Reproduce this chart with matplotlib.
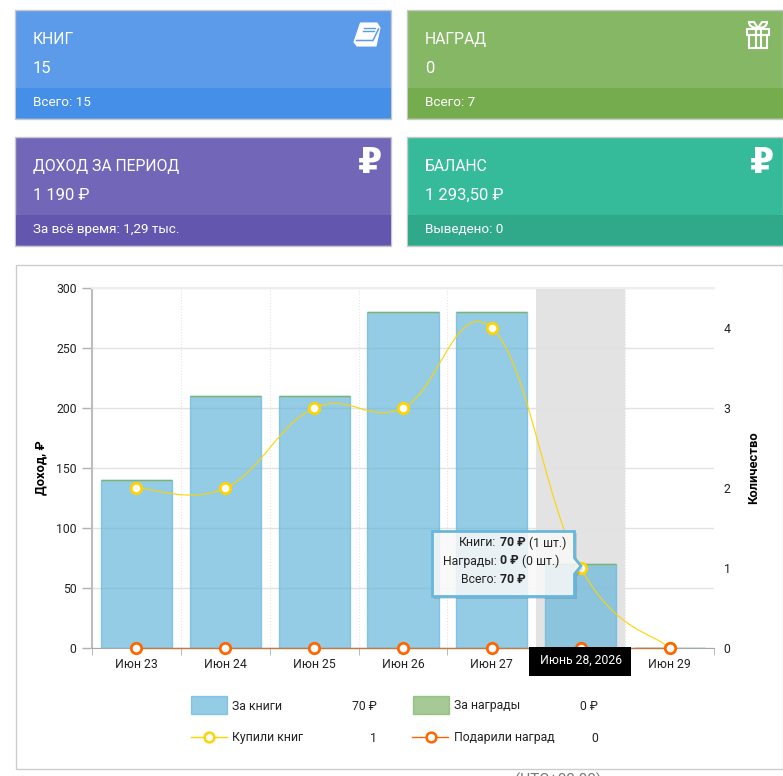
import numpy as np
import matplotlib
matplotlib.use('Agg')
import matplotlib.pyplot as plt
from matplotlib.patches import Rectangle, Polygon, PathPatch
from matplotlib.path import Path

plt.rcParams['font.family'] = ['Roboto', 'DejaVu Sans']

# Jun 28 is covered by the black date label in the picture
days = ['Июн 23', 'Июн 24', 'Июн 25', 'Июн 26', 'Июн 27', '', 'Июн 29']
books_income = [140, 210, 210, 280, 280, 70, 0]
awards_income = [0, 0, 0, 0, 0, 0, 0]
books_count = [2, 2, 3, 3, 4, 1, 0]
awards_count = [0, 0, 0, 0, 0, 0, 0]

# title, value, footer, card colour, footer colour, x, y
cards = [
    ('КНИГ', '15', 'Всего: 15', '#5b9bea', '#468fe8', 15, 9.5),
    ('НАГРАД', '0', 'Всего: 7', '#85b765', '#75ad4e', 407, 9.5),
    ('ДОХОД ЗА ПЕРИОД', '1 190 ₽', 'За всё время: 1,29 тыс.', '#7266b9', '#6356af', 15, 136.5),
    ('БАЛАНС', '1 293,50 ₽', 'Выведено: 0', '#35bb99', '#30a88a', 407, 136.5),
]

W, H = 783, 776
fig = plt.figure(figsize=(W / 100, H / 100), dpi=100)


def px_axes(z):
    a = fig.add_axes([0, 0, 1, 1], zorder=z)
    a.set_xlim(0, W)
    a.set_ylim(H, 0)
    a.axis('off')
    return a


bg = px_axes(0)
top = px_axes(5)

# cards
for title, value, foot, col, col2, x, y in cards:
    bg.add_patch(Rectangle((x, y), 376, 109, fc=col, ec='#c8c8c8', lw=1))
    bg.add_patch(Rectangle((x + 0.5, y + 78), 375, 30.5, fc=col2, ec='none'))
    bg.text(x + 18, y + 30, title, color='white', fontsize=11.3, va='center')
    bg.text(x + 18, y + 59, value, color='white', fontsize=12, va='center')
    bg.text(x + 18, y + 93, foot, color='white', fontsize=9.7, va='center')

# ruble icons
for xr, yr in [(370, 163), (762, 163)]:
    bg.text(xr, yr, '₽', color='white', fontsize=25, fontweight='bold', ha='center', va='center',
            family='DejaVu Sans')

# book icon
bg.add_patch(Polygon([[360.5, 23], [377, 23], [380, 28], [376, 46], [357, 46], [354, 42]], closed=True,
                     fc='white', ec='white', lw=0.8))
bg.plot([356.5, 373, 378.5], [40.5, 40.5, 29], color='#5b9bea', lw=1.1)
bg.plot([364, 374.5], [27.5, 27.5], color='#5b9bea', lw=1)
bg.plot([363, 373.5], [31, 31], color='#5b9bea', lw=1)

# gift icon
bg.add_patch(Rectangle((747, 28.5), 22, 6.5, fc='none', ec='white', lw=1.5))
bg.add_patch(Rectangle((749, 35), 18, 13, fc='none', ec='white', lw=1.5))
bg.plot([755.5, 755.5], [28.5, 48], color='white', lw=1.5)
bg.plot([760.5, 760.5], [28.5, 48], color='white', lw=1.5)
bg.add_patch(PathPatch(Path([(758, 28), (749, 28), (749, 22), (754, 22), (758, 28)],
                            [Path.MOVETO, Path.CURVE3, Path.CURVE3, Path.LINETO, Path.LINETO]),
                       fc='none', ec='white', lw=1.5))
bg.add_patch(PathPatch(Path([(758, 28), (767, 28), (767, 22), (762, 22), (758, 28)],
                            [Path.MOVETO, Path.CURVE3, Path.CURVE3, Path.LINETO, Path.LINETO]),
                       fc='none', ec='white', lw=1.5))

# chart panel
bg.add_patch(Rectangle((15.5, 264.5), 767, 504.5, fc='white', ec='#cccccc', lw=1))
# only this bit of the line below the panel can be read, the rest is cut by the edge
bg.text(515, 780, '(UTC+03:00)', color='#777777', fontsize=11, va='center', clip_on=True)

# main plot
ax = fig.add_axes([92 / W, 1 - 648 / H, 622 / W, 360 / H], zorder=1)
ax.patch.set_alpha(0)
x = np.arange(len(days))
ax.axvspan(4.5, 5.5, color='#e3e3e3', lw=0, zorder=0)
ax.bar(x, books_income, width=0.8, color='#67b7dc', alpha=0.7, edgecolor='#67b7dc', lw=1, zorder=2)
ax.bar(x, awards_income, bottom=books_income, width=0.8, color='#7fb46a', edgecolor='#7fb46a', lw=1, zorder=2)
ax.set_xlim(-0.5, 6.5)
ax.set_ylim(0, 300)
ax.set_yticks([0, 50, 100, 150, 200, 250, 300])
ax.set_xticks(x)
ax.set_xticklabels(days)
ax.set_xticks(np.arange(-0.5, 7, 1), minor=True)
ax.grid(axis='y', color='#e2e2e2', lw=1, zorder=1)
ax.grid(axis='x', which='minor', color='#e4e4e4', lw=0.8, ls=':', zorder=1)
ax.grid(axis='x', which='major', visible=False)
ax.tick_params(axis='x', which='major', length=0, labelsize=8.8, colors='#222222', pad=7)
ax.tick_params(axis='x', which='minor', length=5, color='#b0b0b0')
ax.tick_params(axis='y', length=7, color='#b0b0b0', labelsize=8.8, labelcolor='#222222', pad=4, width=1)
ax.spines['top'].set_color('#eeeeee')
ax.spines['top'].set_linewidth(1.5)
ax.spines['right'].set_visible(False)
ax.spines['left'].set_color('#bdbdbd')
ax.spines['left'].set_linewidth(1.5)
ax.spines['bottom'].set_color('#a8a8a8')
ax.set_ylabel('Доход, ₽', fontsize=9.4, fontweight='bold', labelpad=0)
ax.yaxis.set_label_coords((47 - 92) / 622, 0.5)

ax2 = ax.twinx()
ax2.set_ylim(0, 4.5)
ax2.set_yticks([0, 1, 2, 3, 4])
ax2.tick_params(axis='y', length=0, labelsize=8.8, labelcolor='#222222', pad=7)
for s in ax2.spines.values():
    s.set_visible(False)
ax2.set_ylabel('Количество', fontsize=9.4, fontweight='bold', labelpad=0)
ax2.yaxis.set_label_coords((747 - 92) / 622, 0.5)


def smooth_path(xs, ys, k=0.2):
    # bezier through the points, tangents from the neighbours
    xs = np.array(xs, dtype=float)
    ys = np.array(ys, dtype=float)
    verts = [(xs[0], ys[0])]
    codes = [Path.MOVETO]
    n = len(xs)
    for i in range(n - 1):
        p0 = max(i - 1, 0)
        p3 = min(i + 2, n - 1)
        c1 = (xs[i] + k * (xs[i + 1] - xs[p0]), ys[i] + k * (ys[i + 1] - ys[p0]))
        c2 = (xs[i + 1] - k * (xs[p3] - xs[i]), ys[i + 1] - k * (ys[p3] - ys[i]))
        verts += [c1, c2, (xs[i + 1], ys[i + 1])]
        codes += [Path.CURVE4] * 3
    return Path(verts, codes)


ax2.add_patch(PathPatch(smooth_path(x, books_count), fc='none', ec='#fdd400', lw=0.8, zorder=3))
ax2.plot(x, awards_count, color='#c07a45', lw=1, zorder=3, clip_on=False)
ax2.plot(x, books_count, ls='none', marker='o', ms=7.5, mfc='white', mec='#fdd400', mew=2, zorder=4)
ax2.plot(x, awards_count, ls='none', marker='o', ms=7.5, mfc='white', mec='#ff6600', mew=2, zorder=4, clip_on=False)

# tooltip
shadow = Polygon([[434, 533], [577, 533], [577, 560], [583, 569], [577, 577], [577, 599], [434, 599]],
                 closed=True, fc='#000000', alpha=0.12, ec='none')
top.add_patch(shadow)
tip = Polygon([[432.5, 531.5], [574.5, 531.5], [574.5, 558], [581, 566], [574.5, 574], [574.5, 596.5], [432.5, 596.5]],
              closed=True, fc='white', alpha=0.83, ec='none')
top.add_patch(tip)
top.add_patch(Polygon(tip.get_xy(), closed=True, fc='none', ec='#67b7dc', lw=2))
rows = [('Книги:', '70 ₽', '(1 шт.)', 543, 529), ('Награды:', '0 ₽', '(0 шт.)', 561, 521.5), ('Всего:', '70 ₽', '', 579.5, 529)]
for a, b, c, yy, xc in rows:
    top.text(496.5, yy, a, ha='right', va='center', fontsize=8.8, color='#222222')
    top.text(500, yy, b, ha='left', va='center', fontsize=8.8, fontweight='bold', color='#222222')
    top.text(xc, yy, c, ha='left', va='center', fontsize=8.8, color='#222222')

# date label under cursor
top.add_patch(Rectangle((529, 647), 102, 29, fc='black', ec='none'))
top.text(581, 660, 'Июнь 28, 2026', color='white', fontsize=8.8, ha='center', va='center')

# legend
top.add_patch(Rectangle((191, 696), 36, 18, fc='#67b7dc', alpha=0.7, ec='#67b7dc', lw=1))
top.add_patch(Rectangle((412.5, 696), 36, 18, fc='#7fb46a', alpha=0.7, ec='#7fb46a', lw=1))
top.plot([191, 227], [736.5, 736.5], color='#fdd400', lw=1)
top.plot([209], [736.5], marker='o', ms=7, mfc='white', mec='#fdd400', mew=1.8)
top.plot([412, 448], [736.5, 736.5], color='#ff6600', lw=1)
top.plot([430.5], [736.5], marker='o', ms=7, mfc='white', mec='#ff6600', mew=1.8)
top.text(232, 706, 'За книги', fontsize=8.8, va='center', color='#222222')
top.text(454, 706, 'За награды', fontsize=8.8, va='center', color='#222222')
top.text(232, 738, 'Купили книг', fontsize=8.8, va='center', color='#222222')
top.text(454, 738, 'Подарили наград', fontsize=8.8, va='center', color='#222222')
top.text(377, 706, '70 ₽', fontsize=8.8, va='center', ha='right', color='#222222')
top.text(598, 706, '0 ₽', fontsize=8.8, va='center', ha='right', color='#222222')
top.text(377, 738, '1', fontsize=8.8, va='center', ha='right', color='#222222')
top.text(598, 738, '0', fontsize=8.8, va='center', ha='right', color='#222222')

fig.savefig('out.png', dpi=100)
